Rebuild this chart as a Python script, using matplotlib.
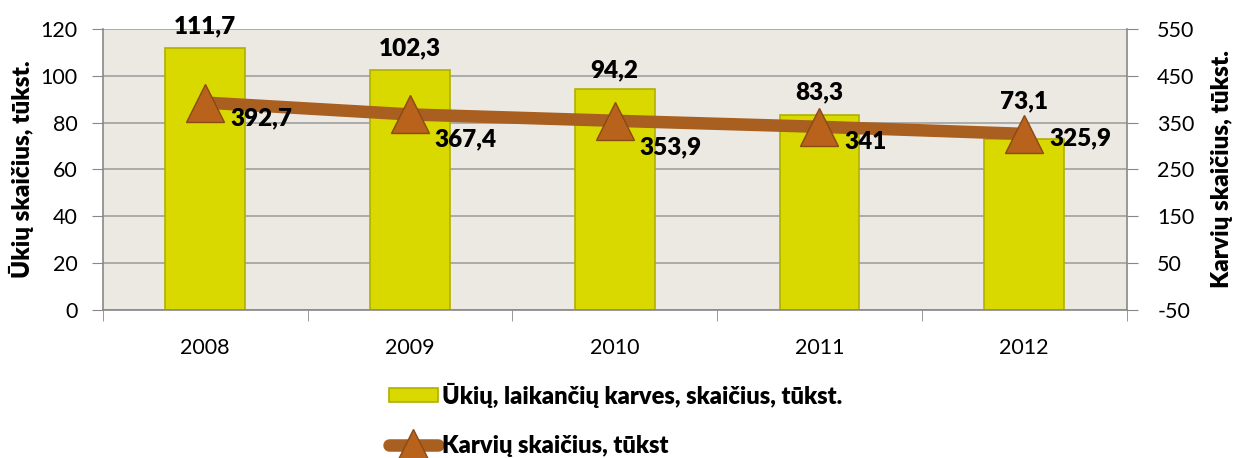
import numpy as np
import matplotlib
matplotlib.use('Agg')
import matplotlib.pyplot as plt

plt.rcParams['font.family'] = ['Lato', 'DejaVu Sans']
plt.rcParams['axes.unicode_minus'] = False

years = ['2008', '2009', '2010', '2011', '2012']
ukiai = [111.7, 102.3, 94.2, 83.3, 73.1]
karves = [392.7, 367.4, 353.9, 341.0, 325.9]

label_ukiai = 'Ūkių, laikančių karves, skaičius, tūkst.'
label_karves = 'Karvių skaičius, tūkst'

# label nudges (points), as placed by hand in the original
bar_lab_dy = [8, 8, 6, 8, 19]
line_lab_dy = [-11, -18, -19, -11, -3]

W = 'heavy'


def lt(v):
    s = ('%.1f' % v).replace('.', ',')
    return s[:-2] if s.endswith(',0') else s


fig = plt.figure(figsize=(12.38, 4.58), dpi=100)
ax = fig.add_axes([0.083, 0.323, 0.827, 0.614])
ax.set_facecolor('#ECE9E3')

x = np.arange(len(years))
bars = ax.bar(x, ukiai, width=0.39, color='#D9D900', edgecolor='#B0B000',
              linewidth=1.2, zorder=2, label=label_ukiai)

ax.set_xlim(-0.5, len(years) - 0.5)
ax.set_ylim(0, 120)
ax.set_yticks(np.arange(0, 121, 20))
ax.set_xticks(x)
ax.set_xticklabels(years)
ax.set_xticks(np.arange(-0.5, len(years), 1), minor=True)
ax.tick_params(axis='x', which='major', length=0, pad=20, labelsize=15.5)
ax.tick_params(axis='x', which='minor', length=8, color='#888888')
ax.tick_params(axis='y', length=8, color='#888888', labelsize=15.5, pad=10)
ax.grid(axis='y', color='#A0A0A0', linewidth=1.2, zorder=0)
for s in ['top', 'right']:
    ax.spines[s].set_visible(False)
for s in ['left', 'bottom']:
    ax.spines[s].set_color('#888888')
    ax.spines[s].set_linewidth(1.2)
ax.set_ylabel('Ūkių skaičius, tūkst.', fontsize=17.5, fontweight=W, labelpad=5)

for xi, v, dy in zip(x, ukiai, bar_lab_dy):
    ax.annotate(lt(v), (xi, v), xytext=(0, dy), textcoords='offset points',
                ha='center', va='bottom', fontsize=17.5, fontweight=W)

ax2 = ax.twinx()
ax2.set_ylim(-50, 550)
ax2.set_yticks(np.arange(-50, 551, 100))
ax2.tick_params(axis='y', length=8, color='#888888', labelsize=15.5, pad=14)
for s in ['top', 'left', 'bottom']:
    ax2.spines[s].set_visible(False)
ax2.spines['right'].set_color('#888888')
ax2.spines['right'].set_linewidth(1.2)
ax2.set_ylabel('Karvių skaičius, tūkst.', fontsize=17.5, fontweight=W, labelpad=12)

line, = ax2.plot(x, karves, color='#A85F1F', linewidth=9, marker='^',
                 markersize=28, markerfacecolor='#B8621B', markeredgecolor='#8A4A15',
                 markeredgewidth=1, solid_capstyle='round', zorder=3, label=label_karves)

for xi, v, dy in zip(x, karves, line_lab_dy):
    ax2.annotate(lt(v), (xi, v), xytext=(18, dy), textcoords='offset points',
                 ha='left', va='center', fontsize=17.5, fontweight=W)

fig.legend([bars, line], [label_ukiai, label_karves], loc='lower center',
           bbox_to_anchor=(0.497, -0.028), ncol=1, frameon=False,
           prop={'size': 17, 'weight': W}, handlelength=2.1, markerscale=0.8,
           handleheight=0.55, labelspacing=1.15, handletextpad=0.15, borderpad=0.1)

fig.savefig('out.png', dpi=100)
